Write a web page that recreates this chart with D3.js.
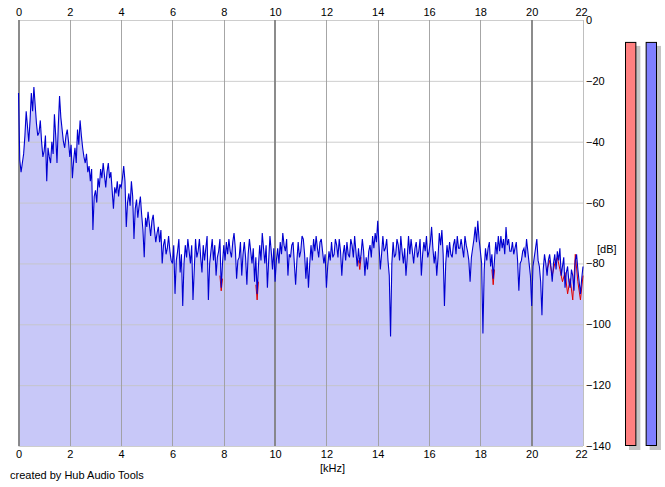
<!DOCTYPE html>
<html>
<head>
<meta charset="utf-8">
<script src="https://cdn.jsdelivr.net/npm/d3@7"></script>
<style>
  body { margin: 0; background: #fff; }
  text { font-family: "Liberation Sans", Arial, sans-serif; font-size: 11px; fill: #000; }
</style>
</head>
<body>
<div id="chart"></div>
<script>
// Spectrum values (dB), right channel, one per 0.05 kHz from 0 to 22 kHz
let blueDb = [
  -24, -46, -50, -47, -44, -38, -30, -35, -40, -33,
  -24, -30, -22, -28, -34, -38, -37, -33, -40, -45,
  -43, -38, -53, -42, -45, -47, -40, -44, -31, -38,
  -47, -35, -25, -32, -36, -40, -42, -38, -36, -40,
  -45, -41, -52, -46, -42, -47, -36, -41, -33, -38,
  -42, -45, -47, -44, -50, -48, -53, -49, -69, -58,
  -56, -60, -52, -55, -49, -52, -47, -51, -55, -50,
  -47, -52, -50, -56, -62, -55, -57, -53, -58, -54,
  -55, -52, -48, -53, -68, -60, -57, -61, -53, -58,
  -72, -62, -59, -65, -61, -58, -64, -69, -78, -65,
  -68, -63, -67, -71, -66, -64, -69, -73, -70, -68,
  -73, -69, -80, -74, -72, -77, -75, -71, -76, -79,
  -80, -74, -90, -79, -76, -72, -83, -77, -94, -80,
  -74, -78, -72, -76, -80, -74, -92, -82, -72, -78,
  -76, -72, -78, -83, -74, -79, -75, -71, -92, -80,
  -76, -72, -79, -74, -84, -78, -76, -72, -88, -80,
  -74, -79, -73, -77, -72, -76, -78, -73, -70, -75,
  -85, -79, -78, -73, -84, -77, -73, -78, -87, -77,
  -72, -76, -80, -75, -86, -78, -90, -81, -74, -79,
  -70, -75, -80, -74, -88, -79, -71, -76, -82, -75,
  -86, -79, -75, -80, -73, -77, -70, -74, -76, -72,
  -84, -77, -78, -74, -73, -80, -87, -79, -73, -78,
  -76, -71, -72, -77, -85, -78, -88, -80, -74, -79,
  -72, -76, -71, -75, -78, -73, -72, -76, -80, -77,
  -88, -81, -76, -79, -73, -78, -77, -72, -74, -78,
  -72, -76, -84, -77, -74, -79, -73, -77, -78, -72,
  -74, -78, -71, -76, -81, -75, -80, -77, -72, -76,
  -84, -78, -82, -76, -74, -78, -71, -75, -70, -73,
  -66, -74, -82, -77, -71, -76, -75, -72, -79, -84,
  -104, -80, -73, -78, -77, -72, -74, -79, -71, -76,
  -80, -75, -84, -78, -71, -77, -72, -76, -80, -75,
  -73, -78, -76, -72, -84, -77, -73, -76, -71, -78,
  -76, -73, -68, -75, -80, -76, -84, -78, -70, -74,
  -69, -77, -94, -80, -74, -78, -73, -77, -78, -74,
  -72, -77, -71, -75, -75, -72, -75, -78, -71, -74,
  -76, -79, -86, -78, -75, -72, -68, -73, -66, -72,
  -76, -80, -103, -82, -75, -79, -75, -73, -81, -77,
  -85, -79, -73, -77, -71, -76, -71, -75, -72, -77,
  -68, -74, -72, -76, -76, -73, -77, -75, -73, -79,
  -89, -80, -79, -76, -75, -78, -72, -76, -80, -84,
  -94, -81, -78, -75, -72, -79, -81, -86, -97, -82,
  -77, -80, -84, -79, -77, -81, -86, -80, -77, -82,
  -76, -79, -75, -84, -81, -78, -88, -83, -81, -86,
  -88, -82, -84, -89, -79, -77, -82, -86, -90, -85,
  -81
];
let freqs = d3.range(blueDb.length).map(i => i / 20);

// Left channel, only where it shows above the right channel
let redKHz = [20.6, 20.7, 20.8, 20.9, 21.0, 21.1, 21.2, 21.3, 21.4, 21.5, 21.6, 21.7, 21.8, 21.9, 22.0];
let redDb  = [-82, -79, -84, -80, -78, -82, -86, -83, -90, -85, -92, -77, -86, -92, -84];
let redSpots = [
  [[7.85, -84], [7.9, -89], [7.95, -85]],
  [[9.25, -87], [9.3, -92], [9.35, -86]],
  [[13.25, -79], [13.3, -82], [13.35, -78]],
  [[18.45, -82], [18.5, -87], [18.55, -82]]
];

// Axis ticks
let kHzTicks = d3.range(0, 23, 2);
let dbTicks = d3.range(0, -141, -20);
let majorKHz = [0, 10, 20];

// Level meters (dB): left, right
let meterDb = [-7.2, -7.2];
let meterColors = ['#ff8080', '#8080ff'];

let width = 665, height = 487;
let svg = d3.select('#chart').append('svg')
    .attr('width', width)
    .attr('height', height);

let x = d3.scaleLinear().domain([0, 22]).range([18.5, 583]);
let y = d3.scaleLinear().domain([0, -140]).range([20, 446]);

// Filled area under the spectrum
let area = d3.area()
    .x((d, i) => x(freqs[i]))
    .y0(y(-140))
    .y1(d => y(d));

svg.append('path')
    .datum(blueDb)
    .attr('d', area)
    .attr('fill', '#c8c8f8');

// Grid
svg.append('g').selectAll('line')
    .data(dbTicks)
    .enter().append('line')
    .attr('x1', x(0)).attr('x2', x(22))
    .attr('y1', d => y(d) + 0.5).attr('y2', d => y(d) + 0.5)
    .attr('stroke', '#c4c4c4')
    .attr('stroke-opacity', 0.85);

svg.append('g').selectAll('line')
    .data(kHzTicks)
    .enter().append('line')
    .attr('x1', d => Math.round(x(d)) + (majorKHz.includes(d) ? 0 : 0.5))
    .attr('x2', d => Math.round(x(d)) + (majorKHz.includes(d) ? 0 : 0.5))
    .attr('y1', y(0)).attr('y2', y(-140))
    .attr('stroke', d => majorKHz.includes(d) ? '#808080' : (d == 22 ? '#b8b8b8' : '#9c9c9c'))
    .attr('stroke-width', d => majorKHz.includes(d) ? 2 : 1)
    .attr('stroke-opacity', 0.9);

// Spectrum lines
let line = d3.line()
    .x(d => x(d[0]))
    .y(d => y(d[1]));

svg.append('path')
    .datum(d3.zip(redKHz, redDb))
    .attr('d', line)
    .attr('fill', 'none')
    .attr('stroke', '#e00000')
    .attr('stroke-width', 1);

svg.append('g').selectAll('path')
    .data(redSpots)
    .enter().append('path')
    .attr('d', line)
    .attr('fill', 'none')
    .attr('stroke', '#e00000')
    .attr('stroke-width', 1);

svg.append('path')
    .datum(d3.zip(freqs, blueDb))
    .attr('d', line)
    .attr('fill', 'none')
    .attr('stroke', '#0000d0')
    .attr('stroke-width', 1.1);

// Axes (labels only)
let topAxis = svg.append('g')
    .attr('transform', `translate(0, ${y(0)})`)
    .call(d3.axisTop(x).tickValues(kHzTicks).tickSize(0).tickPadding(4));
let bottomAxis = svg.append('g')
    .attr('transform', `translate(0, ${y(-140)})`)
    .call(d3.axisBottom(x).tickValues(kHzTicks).tickSize(0).tickPadding(4));
let rightAxis = svg.append('g')
    .attr('transform', `translate(${x(22)}, 0)`)
    .call(d3.axisRight(y).tickValues(dbTicks).tickSize(0).tickPadding(3));

[topAxis, bottomAxis, rightAxis].forEach(a => {
    a.select('.domain').remove();
    a.selectAll('text').attr('font-size', 11).attr('font-family', '"Liberation Sans", Arial, sans-serif');
});
topAxis.selectAll('text').filter(d => d == 22).attr('dx', -2);
bottomAxis.selectAll('text').filter(d => d == 22).attr('dx', -2);

svg.append('text').attr('x', width / 2).attr('y', 472)
    .attr('text-anchor', 'middle').text('[kHz]');
svg.append('text').attr('x', 597).attr('y', 253).text('[dB]');
svg.append('text').attr('x', 10).attr('y', 479).text('created by Hub Audio Tools');

// Level meters
let meterX = d3.scaleBand().domain([0, 1]).range([625, 657]).paddingInner(0.45).paddingOuter(0);
let meters = svg.append('g').selectAll('g')
    .data(meterDb)
    .enter().append('g');

meters.append('rect')
    .attr('x', (d, i) => meterX(i) + 4)
    .attr('y', d => y(d) + 4)
    .attr('width', meterX.bandwidth())
    .attr('height', d => y(-140) - y(d))
    .attr('fill', '#c4c4c4');

meters.append('rect')
    .attr('x', (d, i) => meterX(i) + 0.5)
    .attr('y', d => y(d) + 0.5)
    .attr('width', meterX.bandwidth() - 1)
    .attr('height', d => y(-140) - y(d) - 1)
    .attr('fill', (d, i) => meterColors[i])
    .attr('stroke', '#000');
</script>
</body>
</html>
